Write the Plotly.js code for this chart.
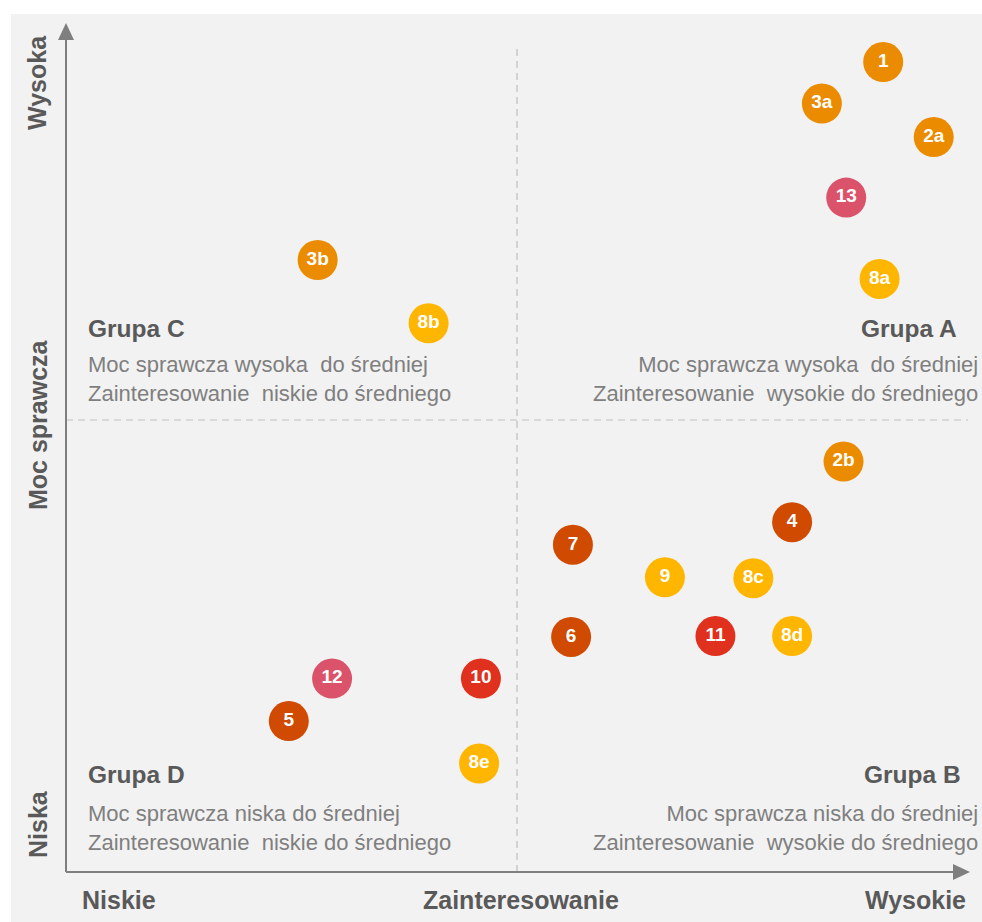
<!DOCTYPE html>
<html>
<head>
<meta charset="utf-8">
<script src="https://cdn.plot.ly/plotly-3.0.1.min.js"></script>
<style>html,body{margin:0;padding:0;background:#fff;}#chart{width:982px;height:922px;}</style>
</head>
<body>
<div id="chart"></div>
<script>
// ---- data ----
const labels   = ["1","3a","2a","13","8a","3b","8b","2b","4","7","9","8c","6","11","8d","12","10","5","8e"];
const interest = [9.06,8.38,9.62,8.65,9.02,2.79,4.02,8.62,8.05,5.62,6.64,7.62,5.60,7.20,8.05,2.95,4.60,2.47,4.58];
const power    = [8.96,8.50,8.13,7.46,6.56,6.77,6.07,4.54,3.87,3.62,3.26,3.25,2.60,2.61,2.61,2.14,2.14,1.67,1.20];
const colorKey = ["or","or","or","pk","ye","or","ye","or","do","do","ye","ye","do","rd","ye","pk","rd","do","ye"];
const palette  = {or:"#EB8C00", pk:"#DB536A", ye:"#FFB600", do:"#D04A02", rd:"#E0301E"};
const xLabels  = ["Niskie","Zainteresowanie","Wysokie"];
const yLabels  = ["Wysoka","Moc sprawcza","Niska"];
const groups = [
  {name:"Grupa C", l1:"Moc sprawcza wysoka  do średniej", l2:"Zainteresowanie  niskie do średniego"},
  {name:"Grupa A", l1:"Moc sprawcza wysoka  do średniej", l2:"Zainteresowanie  wysokie do średniego"},
  {name:"Grupa D", l1:"Moc sprawcza niska do średniej",   l2:"Zainteresowanie  niskie do średniego"},
  {name:"Grupa B", l1:"Moc sprawcza niska do średniej",   l2:"Zainteresowanie  wysokie do średniego"}
];

// ---- layout helpers (pixel -> axis / paper units) ----
const X0 = 66, Y0 = 872, UX = 90.2, UY = 90.4;
const px = p => (p - X0) / UX;
const py = p => (Y0 - p) / UY;
const ppx = p => (p - 11) / 971;   // paper x
const FONT = "Liberation Sans, Arial, sans-serif";
const AX = "#7f7f7f", DASH = "#bfbfbf", TXT = "#7f7f7f", BOLD = "#595959";

const trace = {
  type: "scatter", mode: "markers+text",
  x: interest, y: power, text: labels,
  textposition: "middle center",
  textfont: {family: FONT, size: 19, color: "#ffffff", weight: "bold"},
  marker: {size: 40, color: colorKey.map(k => palette[k]), line: {width: 0}},
  hoverinfo: "none", cliponaxis: false
};

const shapes = [
  {type:"line", x0:5, x1:5, y0:py(872), y1:py(45), line:{color:DASH, width:1.2, dash:"7px,5px"}},
  {type:"line", x0:px(66), x1:px(968), y0:5, y1:5, line:{color:DASH, width:1.2, dash:"7px,5px"}},
  {type:"line", x0:0, x1:0, y0:0, y1:py(38), line:{color:AX, width:2}},
  {type:"line", x0:0, x1:px(954), y0:0, y1:0, line:{color:AX, width:2}},
  {type:"path", path:`M ${px(66)} ${py(23)} L ${px(58)} ${py(40)} L ${px(74)} ${py(40)} Z`, fillcolor:AX, line:{width:0}},
  {type:"path", path:`M ${px(970)} ${py(872)} L ${px(953)} ${py(864)} L ${px(953)} ${py(880)} Z`, fillcolor:AX, line:{width:0}}
];

const ann = [];
const boldF = s => ({family: FONT, size: s, color: BOLD, weight: "bold"});
const regF = s => ({family: FONT, size: s, color: TXT});
// axis labels
ann.push({x:px(80), y:py(900), text:xLabels[0], xanchor:"left", yanchor:"middle", font:boldF(25), showarrow:false});
ann.push({x:px(521), y:py(900), text:xLabels[1], xanchor:"center", yanchor:"middle", font:boldF(25), showarrow:false});
ann.push({x:px(968), y:py(900), text:xLabels[2], xanchor:"right", yanchor:"middle", font:boldF(25), showarrow:false});
ann.push({x:px(37), y:py(83), text:yLabels[0], textangle:-90, xanchor:"center", yanchor:"middle", font:boldF(25), showarrow:false});
ann.push({x:px(38), y:py(425), text:yLabels[1], textangle:-90, xanchor:"center", yanchor:"middle", font:boldF(25), showarrow:false});
ann.push({x:px(38), y:py(824), text:yLabels[2], textangle:-90, xanchor:"center", yanchor:"middle", font:boldF(25), showarrow:false});
// group texts
const gpos = [
  {hx:86, hy:328, ha:"left", dx:86, dy:379},
  {hx:959, hy:328, ha:"right", dx:980, dy:379},
  {hx:86, hy:774, ha:"left", dx:86, dy:828},
  {hx:963, hy:774, ha:"right", dx:980, dy:828}
];
groups.forEach((g, i) => {
  const p = gpos[i];
  ann.push({xref:"paper", x:ppx(p.hx), y:py(p.hy), text:g.name, xanchor:p.ha, yanchor:"middle", font:boldF(24.5), showarrow:false});
  ann.push({xref:"paper", x:ppx(p.dx), y:py(p.dy), text:g.l1 + "<br>" + g.l2, xanchor:p.ha, yanchor:"middle", align:p.ha, font:regF(22), showarrow:false});
});

const layout = {
  width: 982, height: 922,
  margin: {l: 11, r: 0, t: 14, b: 0, pad: 0},
  paper_bgcolor: "#ffffff", plot_bgcolor: "#f2f2f2",
  showlegend: false,
  xaxis: {range:[px(11), px(982)], showgrid:false, zeroline:false, showticklabels:false, showline:false, ticks:"", fixedrange:true},
  yaxis: {range:[py(922), py(14)], showgrid:false, zeroline:false, showticklabels:false, showline:false, ticks:"", fixedrange:true},
  shapes: shapes, annotations: ann,
  font: {family: FONT}
};

Plotly.newPlot("chart", [trace], layout, {displayModeBar:false, staticPlot:true});
</script>
</body>
</html>
